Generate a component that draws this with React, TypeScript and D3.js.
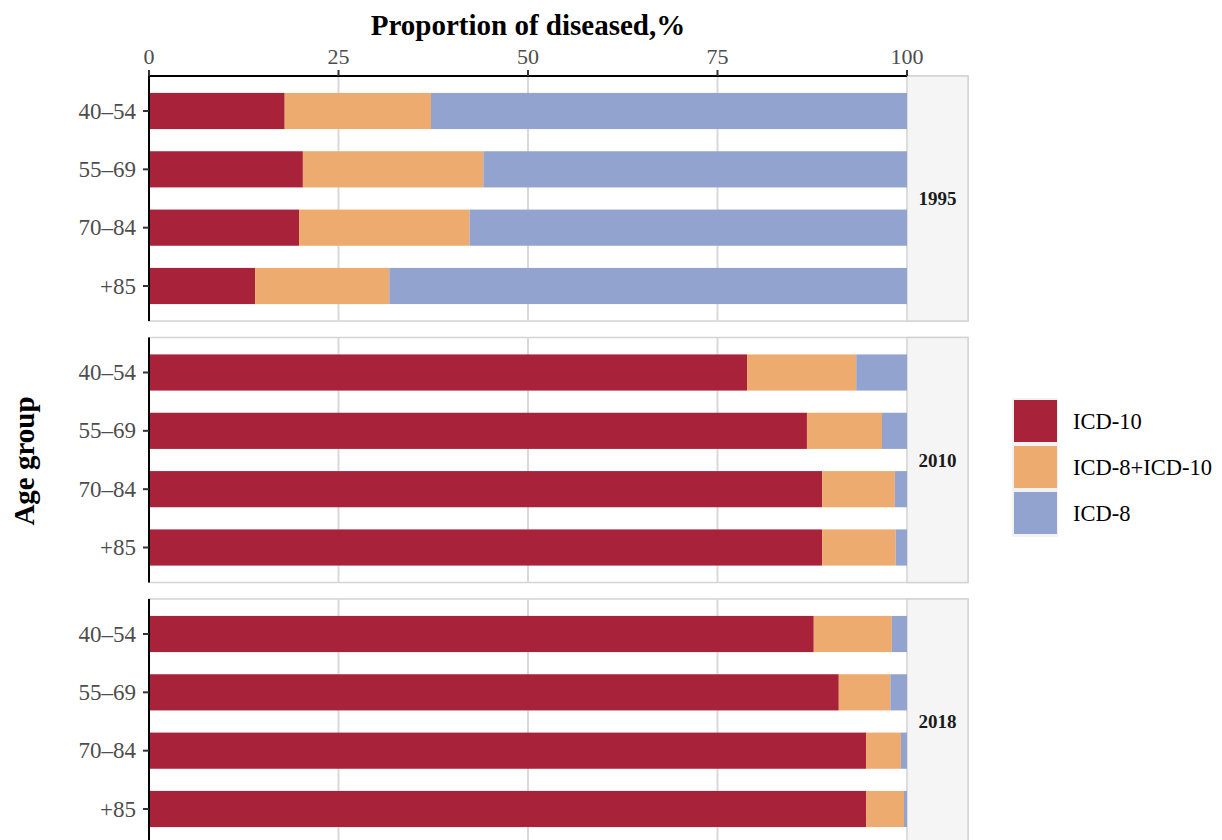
import React from "react";
import * as d3 from "d3";

const years = ["1995", "2010", "2018"];
const ageGroups = ["40–54", "55–69", "70–84", "+85"];
const seriesNames = ["ICD-10", "ICD-8+ICD-10", "ICD-8"];
const colors = ["#A8223A", "#EDAB6F", "#93A3D0"];
// percentages per year, per age group
const icd10 = [
  [17.9, 20.3, 19.8, 14.0],
  [78.9, 86.8, 88.8, 88.8],
  [87.7, 91.0, 94.6, 94.6],
];
const icd8plus10 = [
  [19.3, 23.8, 22.5, 17.7],
  [14.4, 9.9, 9.6, 9.7],
  [10.3, 6.8, 4.6, 5.0],
];
const icd8 = [
  [62.8, 55.9, 57.7, 68.3],
  [6.7, 3.3, 1.6, 1.5],
  [2.0, 2.2, 0.8, 0.4],
];
const xTicks = [0, 25, 50, 75, 100];

const W = 1222;
const H = 840;
const left = 149;
const right = 907;
const stripW = 61;
const panelTop = 76;
const panelH = 245;
const panelGap = 16.5;
const font = "'Liberation Serif', 'Times New Roman', serif";

export default function App() {
  const x = d3.scaleLinear().domain([0, 100]).range([left, right]);
  const yPt = d3.scalePoint<string>().domain(ageGroups).range([0, panelH]).padding(0.6);
  const barH = yPt.step() * 0.62;

  const panels = years.map((yr, pi) => {
    const top = panelTop + pi * (panelH + panelGap);
    const rows = ageGroups.map((ag, ai) => {
      const vals = [icd10[pi][ai], icd8plus10[pi][ai], icd8[pi][ai]];
      let acc = 0;
      const segs = vals.map((v, si) => {
        const x0 = acc;
        acc += v;
        return { x0, x1: Math.min(acc, 100), si };
      });
      return { ag, segs };
    });
    return (
      <g key={yr}>
        <rect
          x={left}
          y={top}
          width={right + stripW - left}
          height={panelH}
          fill="white"
          stroke="#d4d4d4"
          strokeWidth={1.5}
        />
        {[25, 50, 75].map((t) => (
          <line
            key={t}
            x1={x(t)}
            x2={x(t)}
            y1={top}
            y2={top + panelH}
            stroke="#d9d9d9"
            strokeWidth={2}
          />
        ))}
        <rect
          x={right}
          y={top}
          width={stripW}
          height={panelH}
          fill="#f5f5f5"
          stroke="#d4d4d4"
          strokeWidth={1.5}
        />
        <text
          x={right + stripW / 2}
          y={top + panelH / 2}
          textAnchor="middle"
          dominantBaseline="central"
          fontFamily={font}
          fontWeight="bold"
          fontSize={19}
          fill="#1a1a1a"
        >
          {yr}
        </text>
        {rows.map((r) =>
          r.segs.map((s) => (
            <rect
              key={r.ag + s.si}
              x={x(s.x0)}
              y={top + (yPt(r.ag) as number) - barH / 2}
              width={x(s.x1) - x(s.x0)}
              height={barH}
              fill={colors[s.si]}
            />
          ))
        )}
        <line x1={left} x2={left} y1={top} y2={top + panelH} stroke="black" strokeWidth={2} />
        {ageGroups.map((ag) => {
          const cy = top + (yPt(ag) as number);
          return (
            <g key={ag}>
              <line x1={left - 6} x2={left} y1={cy} y2={cy} stroke="#333" strokeWidth={2} />
              <text
                x={left - 13}
                y={cy}
                textAnchor="end"
                dominantBaseline="central"
                fontFamily={font}
                fontSize={23}
                fill="#4d4d4d"
              >
                {ag}
              </text>
            </g>
          );
        })}
      </g>
    );
  });

  return (
    <svg width={W} height={H} style={{ position: "absolute", left: 0, top: 0, background: "white" }}>
      {panels}
      <line x1={left} x2={right} y1={panelTop} y2={panelTop} stroke="black" strokeWidth={2} />
      {xTicks.map((t) => (
        <g key={t}>
          <line x1={x(t)} x2={x(t)} y1={panelTop - 6} y2={panelTop} stroke="#333" strokeWidth={2} />
          <text
            x={x(t)}
            y={64}
            textAnchor="middle"
            fontFamily={font}
            fontSize={22}
            fill="#4d4d4d"
          >
            {t}
          </text>
        </g>
      ))}
      <text
        x={(left + right) / 2}
        y={35}
        textAnchor="middle"
        fontFamily={font}
        fontWeight="bold"
        fontSize={29}
        fill="black"
      >
        Proportion of diseased,%
      </text>
      <text
        transform={`translate(34, 461) rotate(-90)`}
        textAnchor="middle"
        fontFamily={font}
        fontWeight="bold"
        fontSize={29}
        fill="black"
      >
        Age group
      </text>
      <rect x={1012} y={398} width={46} height={139} fill="#f2f2f2" />
      {seriesNames.map((n, i) => (
        <g key={n}>
          <rect x={1014} y={400 + i * 46} width={43} height={42} fill={colors[i]} />
          <text
            x={1073}
            y={400 + i * 46 + 21}
            dominantBaseline="central"
            fontFamily={font}
            fontSize={22.5}
            fill="black"
          >
            {n}
          </text>
        </g>
      ))}
    </svg>
  );
}
